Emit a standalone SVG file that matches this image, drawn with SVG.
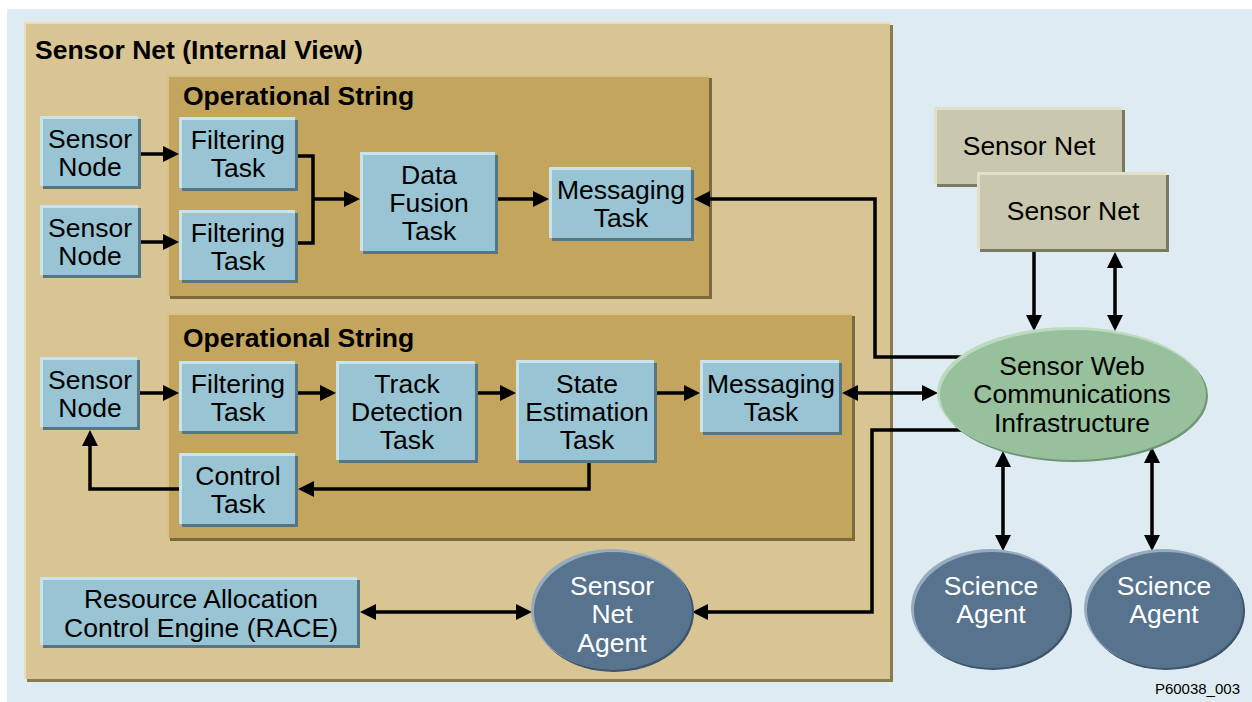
<svg xmlns="http://www.w3.org/2000/svg" width="1252" height="702" viewBox="0 0 1252 702">
<style>
.t{font-family:"Liberation Sans",Arial,Helvetica,sans-serif;font-size:26.5px;text-anchor:middle;fill:#000}
.tw{fill:#fff}
.ttl{font-weight:bold;text-anchor:start}
.small{font-size:15px;text-anchor:end}
.c{fill:none;stroke:#000;stroke-width:3.5}
.tl{fill:#C9E3EC}.ts{fill:#577683}.tb{fill:#98C4D4}
.nl{fill:#E1E0CA}.ns{fill:#7B7A60}.nb{fill:#C9C8AE}
.ol{fill:#D8C189}.os{fill:#7B6A3E}.ob{fill:#C4A55D}
.pl{fill:#EADEB8}.ps{fill:#8A7A50}.pb{fill:#D9C593}
.gl{fill:#BCDABD}.gs{fill:#6E9674}.gb{fill:#97C09C}
.al{fill:#96ABBE}.as{fill:#3D5469}.ab{fill:#58738D}
</style>
<defs>
<marker id="ah" viewBox="0 0 16 16" refX="12" refY="8" markerWidth="16" markerHeight="16" markerUnits="userSpaceOnUse" orient="auto-start-reverse"><path d="M0,0 L16,8 L0,16 z" fill="#000"/></marker>
</defs>
<rect x="7" y="9" width="1245" height="693" fill="#DFEBF2"/>

<g id="sensor-net-internal">
<rect class="ps" x="27" y="25" width="866" height="657"/>
<rect class="pl" x="24" y="22" width="866" height="657"/>
<rect class="pb" x="26" y="24" width="864" height="655"/>
<text class="t ttl" x="35" y="59">Sensor Net (Internal View)</text>
</g>

<g id="op-string-1">
<rect class="os" x="170" y="78" width="542" height="221"/>
<rect class="ol" x="167" y="75" width="542" height="221"/>
<rect class="ob" x="169" y="77" width="540" height="219"/>
<text class="t ttl" x="183" y="105">Operational String</text>
</g>

<g id="op-string-2">
<rect class="os" x="170" y="316" width="685" height="225"/>
<rect class="ol" x="167" y="313" width="685" height="225"/>
<rect class="ob" x="169" y="315" width="683" height="223"/>
<text class="t ttl" x="183" y="347">Operational String</text>
</g>

<g id="connectors">
<path class="c" d="M141 154 H175" marker-end="url(#ah)"/>
<path class="c" d="M141 242 H175" marker-end="url(#ah)"/>
<path class="c" d="M298 156 H313 V243 H298"/>
<path class="c" d="M313 199 H356" marker-end="url(#ah)"/>
<path class="c" d="M498 199 H545" marker-end="url(#ah)"/>
<path class="c" d="M962 357 H875 V199 H698" marker-end="url(#ah)"/>
<path class="c" d="M140 393 H175" marker-end="url(#ah)"/>
<path class="c" d="M298 393 H332" marker-end="url(#ah)"/>
<path class="c" d="M478 393 H512" marker-end="url(#ah)"/>
<path class="c" d="M657 393 H696" marker-end="url(#ah)"/>
<path class="c" d="M846 393 H934" marker-start="url(#ah)" marker-end="url(#ah)"/>
<path class="c" d="M589 463 V489 H302" marker-end="url(#ah)"/>
<path class="c" d="M179 489 H90 V434" marker-end="url(#ah)"/>
<path class="c" d="M962 430 H872 V612 H696" marker-end="url(#ah)"/>
<path class="c" d="M364 612 H528" marker-start="url(#ah)" marker-end="url(#ah)"/>
<path class="c" d="M1034 252 V327" marker-end="url(#ah)"/>
<path class="c" d="M1115 256 V327" marker-start="url(#ah)" marker-end="url(#ah)"/>
<path class="c" d="M1003 455 V547" marker-start="url(#ah)" marker-end="url(#ah)"/>
<path class="c" d="M1152 451 V547" marker-start="url(#ah)" marker-end="url(#ah)"/>
</g>

<g id="sensor-node-1">
<rect class="ts" x="43" y="119" width="98" height="70"/><rect class="tl" x="40" y="116" width="98" height="70"/><rect class="tb" x="43" y="119" width="95" height="67"/>
<text class="t" x="90" y="148">Sensor</text><text class="t" x="90" y="176">Node</text>
</g>
<g id="filtering-task-1">
<rect class="ts" x="182" y="120" width="116" height="71"/><rect class="tl" x="179" y="117" width="116" height="71"/><rect class="tb" x="182" y="120" width="113" height="68"/>
<text class="t" x="238" y="149">Filtering</text><text class="t" x="238" y="177">Task</text>
</g>
<g id="sensor-node-2">
<rect class="ts" x="43" y="208" width="98" height="70"/><rect class="tl" x="40" y="205" width="98" height="70"/><rect class="tb" x="43" y="208" width="95" height="67"/>
<text class="t" x="90" y="237">Sensor</text><text class="t" x="90" y="265">Node</text>
</g>
<g id="filtering-task-2">
<rect class="ts" x="182" y="213" width="116" height="70"/><rect class="tl" x="179" y="210" width="116" height="70"/><rect class="tb" x="182" y="213" width="113" height="67"/>
<text class="t" x="238" y="242">Filtering</text><text class="t" x="238" y="270">Task</text>
</g>
<g id="data-fusion-task">
<rect class="ts" x="363" y="155" width="135" height="99"/><rect class="tl" x="360" y="152" width="135" height="99"/><rect class="tb" x="363" y="155" width="132" height="96"/>
<text class="t" x="429" y="184">Data</text><text class="t" x="429" y="212">Fusion</text><text class="t" x="429" y="240">Task</text>
</g>
<g id="messaging-task-1">
<rect class="ts" x="552" y="170" width="142" height="71"/><rect class="tl" x="549" y="167" width="142" height="71"/><rect class="tb" x="552" y="170" width="139" height="68"/>
<text class="t" x="621" y="199">Messaging</text><text class="t" x="621" y="227">Task</text>
</g>

<g id="sensor-node-3">
<rect class="ts" x="43" y="360" width="97" height="70"/><rect class="tl" x="40" y="357" width="97" height="70"/><rect class="tb" x="43" y="360" width="94" height="67"/>
<text class="t" x="90" y="389">Sensor</text><text class="t" x="90" y="417">Node</text>
</g>
<g id="filtering-task-3">
<rect class="ts" x="182" y="364" width="116" height="70"/><rect class="tl" x="179" y="361" width="116" height="70"/><rect class="tb" x="182" y="364" width="113" height="67"/>
<text class="t" x="238" y="393">Filtering</text><text class="t" x="238" y="421">Task</text>
</g>
<g id="track-detection-task">
<rect class="ts" x="339" y="364" width="139" height="99"/><rect class="tl" x="336" y="361" width="139" height="99"/><rect class="tb" x="339" y="364" width="136" height="96"/>
<text class="t" x="407" y="393">Track</text><text class="t" x="407" y="421">Detection</text><text class="t" x="407" y="449">Task</text>
</g>
<g id="state-estimation-task">
<rect class="ts" x="519" y="363" width="138" height="100"/><rect class="tl" x="516" y="360" width="138" height="100"/><rect class="tb" x="519" y="363" width="135" height="97"/>
<text class="t" x="587" y="393">State</text><text class="t" x="587" y="421">Estimation</text><text class="t" x="587" y="449">Task</text>
</g>
<g id="messaging-task-2">
<rect class="ts" x="703" y="363" width="139" height="72"/><rect class="tl" x="700" y="360" width="139" height="72"/><rect class="tb" x="703" y="363" width="136" height="69"/>
<text class="t" x="771" y="393">Messaging</text><text class="t" x="771" y="421">Task</text>
</g>
<g id="control-task">
<rect class="ts" x="182" y="456" width="116" height="71"/><rect class="tl" x="179" y="453" width="116" height="71"/><rect class="tb" x="182" y="456" width="113" height="68"/>
<text class="t" x="238" y="485">Control</text><text class="t" x="238" y="513">Task</text>
</g>

<g id="race">
<rect class="ts" x="43" y="580" width="317" height="68"/><rect class="tl" x="40" y="577" width="317" height="68"/><rect class="tb" x="43" y="580" width="314" height="65"/>
<text class="t" x="201" y="608">Resource Allocation</text><text class="t" x="201" y="637">Control Engine (RACE)</text>
</g>

<g id="sensor-net-agent">
<ellipse class="as" cx="614" cy="612" rx="80" ry="60"/><ellipse class="al" cx="611" cy="609" rx="80" ry="60"/><ellipse class="ab" cx="613" cy="611" rx="79" ry="59"/>
<text class="t tw" x="612" y="595">Sensor</text><text class="t tw" x="612" y="623">Net</text><text class="t tw" x="612" y="652">Agent</text>
</g>

<g id="sensor-net-back">
<rect class="ns" x="937" y="110" width="188" height="77"/><rect class="nl" x="934" y="107" width="188" height="77"/><rect class="nb" x="937" y="110" width="185" height="74"/>
<text class="t" x="1029" y="155">Sensor Net</text>
</g>
<g id="sensor-net-front">
<rect class="ns" x="980" y="175" width="189" height="77"/><rect class="nl" x="977" y="172" width="189" height="77"/><rect class="nb" x="980" y="175" width="186" height="74"/>
<text class="t" x="1073" y="220">Sensor Net</text>
</g>

<g id="sensor-web-comm">
<ellipse class="gs" cx="1074" cy="396" rx="134" ry="66"/><ellipse class="gl" cx="1071" cy="393" rx="134" ry="66"/><ellipse class="gb" cx="1073" cy="395" rx="133" ry="65"/>
<text class="t" x="1072" y="375">Sensor Web</text><text class="t" x="1072" y="403">Communications</text><text class="t" x="1072" y="432">Infrastructure</text>
</g>

<g id="science-agent-1">
<ellipse class="as" cx="993" cy="611" rx="79" ry="59"/><ellipse class="al" cx="990" cy="608" rx="79" ry="59"/><ellipse class="ab" cx="992" cy="610" rx="78" ry="58"/>
<text class="t tw" x="991" y="595">Science</text><text class="t tw" x="991" y="623">Agent</text>
</g>
<g id="science-agent-2">
<ellipse class="as" cx="1166" cy="611" rx="79" ry="59"/><ellipse class="al" cx="1163" cy="608" rx="79" ry="59"/><ellipse class="ab" cx="1165" cy="610" rx="78" ry="58"/>
<text class="t tw" x="1164" y="595">Science</text><text class="t tw" x="1164" y="623">Agent</text>
</g>

<text class="t small" x="1240" y="694">P60038_003</text>
</svg>
